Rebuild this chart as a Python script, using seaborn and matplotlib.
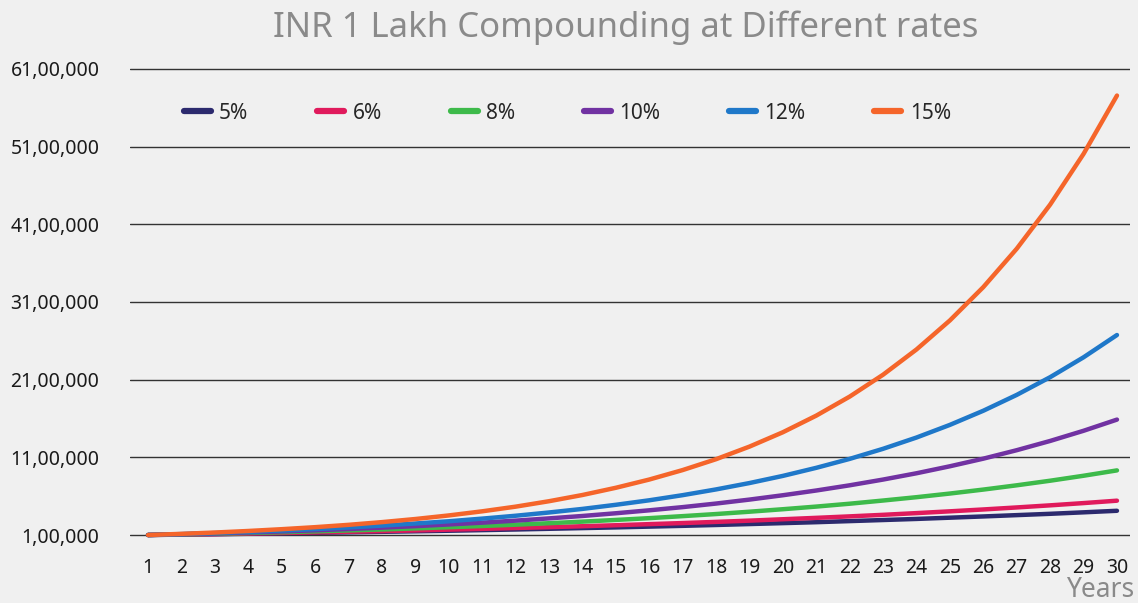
import matplotlib
matplotlib.use("Agg")
import matplotlib.pyplot as plt
import seaborn as sns
import pandas as pd

years = list(range(1, 31))

# values in lakh (1 lakh = 1,00,000)
r5 = [1.00, 1.05, 1.10, 1.16, 1.22, 1.28, 1.34, 1.41, 1.48, 1.55, 1.63, 1.71, 1.80, 1.89, 1.98,
      2.08, 2.18, 2.29, 2.41, 2.53, 2.65, 2.79, 2.93, 3.07, 3.23, 3.39, 3.56, 3.73, 3.92, 4.12]
r6 = [1.00, 1.06, 1.12, 1.19, 1.26, 1.34, 1.42, 1.50, 1.59, 1.69, 1.79, 1.90, 2.01, 2.13, 2.26,
      2.40, 2.54, 2.69, 2.85, 3.03, 3.21, 3.40, 3.60, 3.82, 4.05, 4.29, 4.55, 4.82, 5.11, 5.42]
r8 = [1.00, 1.08, 1.17, 1.26, 1.36, 1.47, 1.59, 1.71, 1.85, 2.00, 2.16, 2.33, 2.52, 2.72, 2.94,
      3.17, 3.43, 3.70, 4.00, 4.32, 4.66, 5.03, 5.44, 5.87, 6.34, 6.85, 7.40, 7.99, 8.63, 9.32]
r10 = [1.00, 1.10, 1.21, 1.33, 1.46, 1.61, 1.77, 1.95, 2.14, 2.36, 2.59, 2.85, 3.14, 3.45, 3.80,
       4.18, 4.59, 5.05, 5.56, 6.12, 6.73, 7.40, 8.14, 8.95, 9.85, 10.83, 11.92, 13.11, 14.42, 15.86]
r12 = [1.00, 1.12, 1.25, 1.40, 1.57, 1.76, 1.97, 2.21, 2.48, 2.77, 3.11, 3.48, 3.90, 4.36, 4.89,
       5.47, 6.13, 6.87, 7.69, 8.61, 9.65, 10.80, 12.10, 13.55, 15.18, 17.00, 19.04, 21.32, 23.88, 26.75]
r15 = [1.00, 1.15, 1.32, 1.52, 1.75, 2.01, 2.31, 2.66, 3.06, 3.52, 4.05, 4.65, 5.35, 6.15, 7.08,
       8.14, 9.36, 10.76, 12.38, 14.23, 16.37, 18.82, 21.64, 24.89, 28.63, 32.92, 37.86, 43.54, 50.07, 57.58]

series_names = ["5%", "6%", "8%", "10%", "12%", "15%"]
series_vals = [r5, r6, r8, r10, r12, r15]
colors = ["#2c2a6e", "#e01a5c", "#3dba4a", "#7132a2", "#1f78c9", "#f5652a"]

ytick_vals = [100000, 1100000, 2100000, 3100000, 4100000, 5100000, 6100000]
ytick_labels = ["1,00,000", "11,00,000", "21,00,000", "31,00,000", "41,00,000", "51,00,000", "61,00,000"]

rows = []
for name, vals in zip(series_names, series_vals):
    for y, v in zip(years, vals):
        rows.append({"Year": y, "Value": v * 100000, "Rate": name})
df = pd.DataFrame(rows)

sns.set_theme(style="white")
plt.rcParams["font.family"] = ["Noto Sans", "DejaVu Sans"]

bg = "#f0f0f0"
fig = plt.figure(figsize=(11.38, 6.03), dpi=100, facecolor=bg)
ax = fig.add_axes([130 / 1138, 0.1076, 1000 / 1138, 0.7883])
ax.set_facecolor(bg)

sns.lineplot(data=df, x="Year", y="Value", hue="Rate", hue_order=series_names,
             palette=colors, linewidth=3.2, ax=ax, zorder=3)

ax.set_xlim(0.46, 30.39)
ax.set_ylim(60000, 6180000)
ax.set_yticks(ytick_vals)
ax.set_yticklabels(ytick_labels)
ax.set_xticks(years)
ax.set_xticklabels([str(y) for y in years])
ax.grid(axis="y", color="#333333", linewidth=1.0)
ax.grid(axis="x", visible=False)
for s in ax.spines.values():
    s.set_visible(False)
ax.tick_params(axis="y", length=0, pad=22, labelsize=14, labelcolor="#1a1a1a")
ax.tick_params(axis="x", length=0, pad=14, labelsize=14, labelcolor="#1a1a1a")
ax.set_xlabel("")
ax.set_ylabel("")

leg = ax.legend(loc="center left", bbox_to_anchor=(0.035, 0.894), ncol=6, frameon=False,
                fontsize=15, handlelength=1.3, handletextpad=0.4, columnspacing=3.3)
for line in leg.get_lines():
    line.set_linewidth(4.5)

fig.text(0.55, 0.954, "INR 1 Lakh Compounding at Different rates", ha="center", va="center",
         fontsize=25, color="#8a8a8a")
fig.text(0.997, 0.022, "Years", ha="right", va="center", fontsize=19, color="#8a8a8a")

fig.savefig("out.png", dpi=100, facecolor=bg)
